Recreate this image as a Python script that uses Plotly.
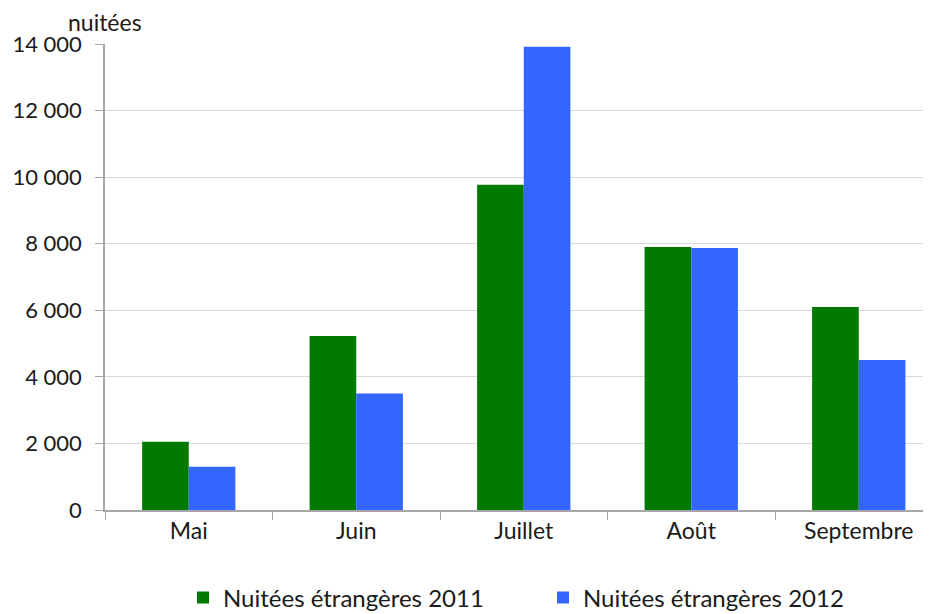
import plotly.graph_objects as go

months = ["Mai", "Juin", "Juillet", "Août", "Septembre"]
nuitees_2011 = [2050, 5230, 9770, 7900, 6100]
nuitees_2012 = [1300, 3500, 13920, 7870, 4510]
series_names = ["Nuitées étrangères 2011", "Nuitées étrangères 2012"]
y_ticks = [0, 2000, 4000, 6000, 8000, 10000, 12000, 14000]

# the page body adds an 8px offset; the figure is sized to compensate
OFF = 8
W, H = 931 - OFF, 614 - OFF
L, R, T, B = 105 - OFF, 0, 44 - OFF, 104
cat_w = 167.5
plot_w = W - L - R
plot_h = H - T - B
x_max = -0.5 + plot_w / cat_w

font = "Lato, 'Open Sans', sans-serif"
txt = "#1a1a1a"

fig = go.Figure()
fig.add_trace(go.Bar(x=months, y=nuitees_2011, name=series_names[0],
                     marker=dict(color="#007A00", line=dict(width=0))))
fig.add_trace(go.Bar(x=months, y=nuitees_2012, name=series_names[1],
                     marker=dict(color="#3366FF", line=dict(width=0))))

fig.update_layout(
    width=W, height=H,
    margin=dict(l=L, r=R, t=T, b=B, autoexpand=False),
    paper_bgcolor="white", plot_bgcolor="white",
    barmode="group", bargap=0.443, bargroupgap=0,
    separators=", ",
    font=dict(family=font, size=22, color=txt),
    showlegend=True,
    legend=dict(orientation="h", x=(183 - 105) / plot_w, xanchor="left",
                y=-(598 - 510) / plot_h, yanchor="middle",
                font=dict(size=24, color=txt), entrywidth=315, itemwidth=30,
                traceorder="normal"),
    xaxis=dict(range=[-0.5, x_max], showline=True, linecolor="#a6a6a6", linewidth=1.5,
               ticks="outside", tickson="boundaries", ticklen=8, tickcolor="#a6a6a6",
               tickfont=dict(size=23, color=txt), showgrid=False, fixedrange=True,
               automargin=False),
    yaxis=dict(range=[0, 14000], tickvals=y_ticks, tickformat=",d",
               showline=True, linecolor="#a6a6a6", linewidth=1.5,
               ticks="outside", ticklen=8, tickcolor="#a6a6a6",
               gridcolor="#d9d9d9", gridwidth=1.2, zeroline=False,
               tickfont=dict(size=22, color=txt), ticklabelstandoff=9,
               automargin=False),
    annotations=[dict(text="nuitées", xref="paper", yref="paper",
                      x=(66 - 105) / plot_w, y=1 + (44 - 22) / plot_h,
                      xanchor="left", yanchor="middle", showarrow=False,
                      font=dict(size=23, color=txt))],
)

fig.write_html("out.html")
